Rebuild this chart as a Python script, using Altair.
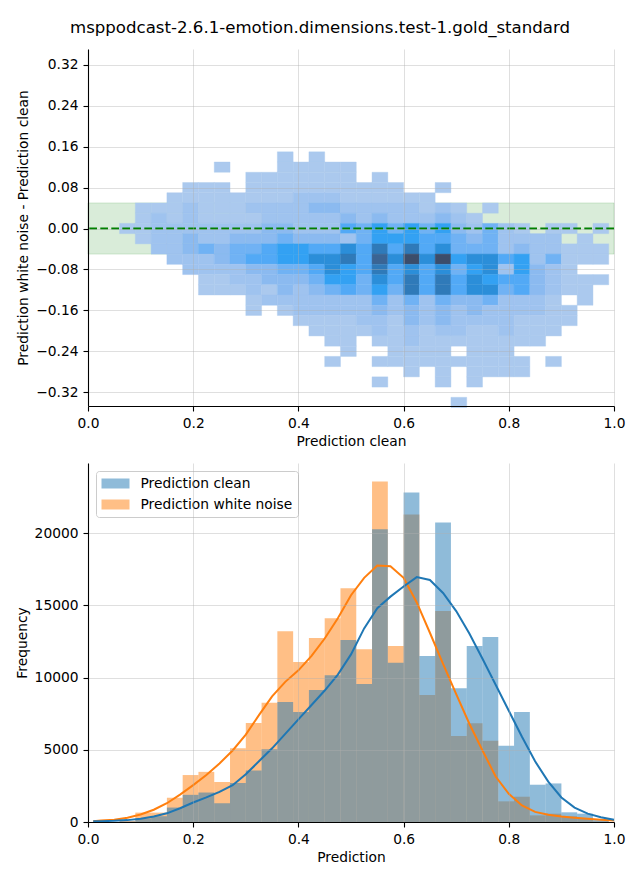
import altair as alt
import pandas as pd

TITLE = "msppodcast-2.6.1-emotion.dimensions.test-1.gold_standard"
FONT = "DejaVu Sans"
FS = 13.8

# ---------------- top panel: 2D histogram ----------------
X_BIN_START = 0.06
X_BIN_WIDTH = 0.03
Y_BIN_TOP = 0.15
Y_BIN_HEIGHT = 0.02
# one entry per y-bin row (top to bottom); (first x-bin column, intensity level per cell, hex digits 1..a)
HEAT_ROWS = [
    [(10, "1"), (12, "1")],
    [(6, "1"), (10, "11111")],
    [(8, "1111111"), (16, "1")],
    [(4, "111"), (8, "1111111111"), (20, "1")],
    [(3, "11111111222111111")],
    [(1, "111211122223322222121"), (23, "1")],
    [(1, "1212111122222323222321")],
    [(0, "11222222233222546464632421"), (27, "11"), (30, "1")],
    [(1, "122322333433324666554342222"), (29, "1")],
    [(2, "22343445665575858574442322111")],
    [(3, "222345566778597a7a6775624111")],
    [(4, "2222334457658575746726321")],
    [(5, "11223334664758585765532111")],
    [(5, "1112132345464858577453211")],
    [(8, "12222222424243342221"), (29, "1")],
    [(8, "1"), (10, "1222223232323222211")],
    [(11, "111122132322221111")],
    [(12, "1111212122112111")],
    [(13, "11"), (16, "11211111111")],
    [(14, "1"), (17, "1111"), (22, "111")],
    [(13, "1"), (16, "1111111111"), (27, "1")],
    [(18, "1"), (20, "1"), (22, "1111")],
    [(16, "1"), (20, "1"), (22, "1")],
    [],
    [(21, "1")],
]
LEVELS = [1, 2, 3, 4, 5, 6, 7, 8, 9, 10]
LEVEL_COLORS = ["#abc9ee", "#9fc3ef", "#8bbaf0", "#70b2f4", "#52a9f6",
                "#33a1f3", "#2b8ed9", "#2f7ab9", "#3a6494", "#3c4d6a"]
BAND_HALF = 0.05
TOP_Y_TICKS = [-0.32, -0.24, -0.16, -0.08, 0.0, 0.08, 0.16, 0.24, 0.32]
X_TICKS = [0.0, 0.2, 0.4, 0.6, 0.8, 1.0]

# ---------------- bottom panel: histograms + KDE ----------------
SERIES = ["Prediction clean", "Prediction white noise"]
SERIES_COLORS = ["#1f77b4", "#ff7f0e"]
HIST_BIN_START = 0.06
HIST_BIN_WIDTH = 0.03
COUNT_CLEAN = [40, 250, 400, 1000, 1880, 2040, 1290, 2700, 3570, 5040, 8300,
               7620, 9140, 10150, 12590, 9550, 20260, 11030, 22810, 11490, 20740,
               9250, 12180, 12800, 5270, 7620, 2580, 2670, 670, 575, 160]
COUNT_NOISE = [80, 650, 650, 1680, 3250, 3470, 2770, 5100, 6860, 8260, 13200,
               11070, 12730, 14110, 16180, 11950, 23570, 12180, 21290, 8790, 14600,
               5960, 6840, 5620, 1430, 1750, 460, 575, 390, 280, 50]
KDE_X = [0.01, 0.025, 0.05, 0.075, 0.1, 0.125, 0.15, 0.175, 0.2, 0.225, 0.25,
         0.275, 0.3, 0.325, 0.35, 0.375, 0.4, 0.425, 0.45, 0.475, 0.5, 0.525,
         0.55, 0.575, 0.6, 0.625, 0.65, 0.675, 0.7, 0.725, 0.75, 0.775, 0.8,
         0.825, 0.85, 0.875, 0.9, 0.925, 0.95, 0.975, 1.0]
KDE_CLEAN = [50, 60, 80, 130, 220, 380, 600, 950, 1350, 1700, 2080,
             2550, 3300, 4200, 5100, 6100, 7100, 8100, 9100, 10200, 11600, 13400,
             14800, 15600, 16300, 16950, 16750, 15850, 14600, 13050, 11300, 9500, 7700,
             5900, 4200, 2800, 1700, 1000, 580, 330, 150]
KDE_NOISE = [60, 100, 160, 300, 520, 850, 1300, 1900, 2550, 3250, 4050,
             4950, 6050, 7400, 8700, 9700, 10500, 11500, 12700, 14100, 15700, 16900,
             17750, 17700, 16900, 15200, 13100, 10950, 8850, 6800, 4950, 3150, 1950,
             1150, 700, 500, 380, 290, 220, 160, 110]
FREQ_TICKS = [0, 5000, 10000, 15000, 20000]

# ---------------- build tables ----------------
cells = []
for r, segs in enumerate(HEAT_ROWS):
    y_hi = Y_BIN_TOP - r * Y_BIN_HEIGHT
    for c0, lv in segs:
        for k, ch in enumerate(lv):
            xl = X_BIN_START + (c0 + k) * X_BIN_WIDTH
            cells.append({"x": xl, "x2": xl + X_BIN_WIDTH,
                          "y": y_hi - Y_BIN_HEIGHT, "y2": y_hi, "level": int(ch, 16)})
heat_df = pd.DataFrame(cells)
band_df = pd.DataFrame({"x": [0.0], "x2": [1.0], "y": [-BAND_HALF], "y2": [BAND_HALF]})
zero_df = pd.DataFrame({"y": [0.0]})

hist_rows = []
for name, counts in ((SERIES[1], COUNT_NOISE), (SERIES[0], COUNT_CLEAN)):
    for i, cnt in enumerate(counts):
        xl = HIST_BIN_START + i * HIST_BIN_WIDTH
        hist_rows.append({"series": name, "x": xl, "x2": xl + HIST_BIN_WIDTH, "count": cnt})
hist_df = pd.DataFrame(hist_rows)
kde_df = pd.DataFrame(
    [{"series": SERIES[0], "x": x, "v": v} for x, v in zip(KDE_X, KDE_CLEAN)]
    + [{"series": SERIES[1], "x": x, "v": v} for x, v in zip(KDE_X, KDE_NOISE)]
)

# ---------------- scales / axes ----------------
x_scale = alt.Scale(domain=[0, 1], nice=False, zero=False)
ytop_scale = alt.Scale(domain=[-0.347, 0.351], nice=False, zero=False)
ybot_scale = alt.Scale(domain=[0, 24850], nice=False, zero=False)

def x_enc(title):
    return alt.X("x:Q", scale=x_scale, title=title,
                 axis=alt.Axis(values=X_TICKS, format=".1f", grid=True, zindex=1))

ytop = alt.Y("y:Q", scale=ytop_scale, title="Prediction white noise - Prediction clean",
             axis=alt.Axis(values=TOP_Y_TICKS, format=".2f", grid=True, zindex=1))

band = alt.Chart(band_df).mark_rect(fill="green", fillOpacity=0.15, stroke="green",
                                    strokeOpacity=0.15, strokeWidth=1).encode(
    x=x_enc("Prediction clean"), x2="x2:Q", y=ytop, y2="y2:Q")

level_scale = alt.Scale(domain=LEVELS, range=LEVEL_COLORS)
heat = alt.Chart(heat_df).mark_rect(strokeWidth=0.4).encode(
    x=x_enc("Prediction clean"), x2="x2:Q", y=ytop, y2="y2:Q",
    color=alt.Color("level:O", scale=level_scale, legend=None),
    stroke=alt.Stroke("level:O", scale=level_scale, legend=None))

zero = alt.Chart(zero_df).mark_rule(color="green", strokeDash=[7.7, 3.3], strokeWidth=2).encode(
    y=alt.Y("y:Q", scale=ytop_scale, title="Prediction white noise - Prediction clean"))

top = alt.layer(band, heat, zero).properties(width=526, height=357)

ybot = alt.Y("count:Q", scale=ybot_scale, title="Frequency",
             axis=alt.Axis(values=FREQ_TICKS, format="d", grid=True, zindex=1))
series_scale = alt.Scale(domain=SERIES, range=SERIES_COLORS)
legend = alt.Legend(title=None, orient="top-left", offset=8,
                    fillColor="rgba(255,255,255,0.8)", strokeColor="#cccccc",
                    cornerRadius=3, padding=5.5, rowPadding=7,
                    symbolType="M-1,-0.714H3V0.714H-1Z", symbolSize=196,
                    symbolOpacity=0.5, symbolStrokeWidth=0,
                    labelFont=FONT, labelFontSize=FS, labelColor="black", labelOffset=25)

bars_noise = alt.Chart(hist_df).transform_filter(alt.datum.series == SERIES[1]).mark_rect(
    opacity=0.5, strokeWidth=0).encode(
    x=x_enc("Prediction"), x2="x2:Q", y=ybot, y2=alt.datum(0),
    color=alt.Color("series:N", scale=series_scale, legend=legend))
bars_clean = alt.Chart(hist_df).transform_filter(alt.datum.series == SERIES[0]).mark_rect(
    opacity=0.5, strokeWidth=0).encode(
    x=x_enc("Prediction"), x2="x2:Q", y=ybot, y2=alt.datum(0),
    color=alt.Color("series:N", scale=series_scale, legend=legend))

kde_y = alt.Y("v:Q", scale=ybot_scale, title="Frequency")
line_noise = alt.Chart(kde_df).transform_filter(alt.datum.series == SERIES[1]).mark_line(
    color=SERIES_COLORS[1], strokeWidth=2).encode(x=x_enc("Prediction"), y=kde_y)
line_clean = alt.Chart(kde_df).transform_filter(alt.datum.series == SERIES[0]).mark_line(
    color=SERIES_COLORS[0], strokeWidth=2).encode(x=x_enc("Prediction"), y=kde_y)

bottom = alt.layer(bars_noise, bars_clean, line_noise, line_clean).properties(width=526, height=359)

chart = alt.vconcat(top, bottom, spacing=14).resolve_scale(
    color="independent", stroke="independent"
).properties(
    title=alt.TitleParams(TITLE, font=FONT, fontSize=16.6, fontWeight="normal",
                          color="black", anchor="middle", offset=12),
    padding={"left": 15, "top": 20, "right": 12, "bottom": 6},
).configure_view(strokeWidth=0).configure_axis(
    labelFont=FONT, labelFontSize=FS, labelColor="black",
    titleFont=FONT, titleFontSize=FS, titleFontWeight="normal", titleColor="black",
    domainColor="black", domainWidth=1.1, tickColor="black", tickWidth=1.1, tickSize=5,
    labelPadding=5, titlePadding=5, gridColor="#b0b0b0", gridOpacity=0.5, gridWidth=0.8,
    labelFlush=False, labelOverlap=False,
)

chart.save("out.html", embed_options={"renderer": "svg", "actions": False})
